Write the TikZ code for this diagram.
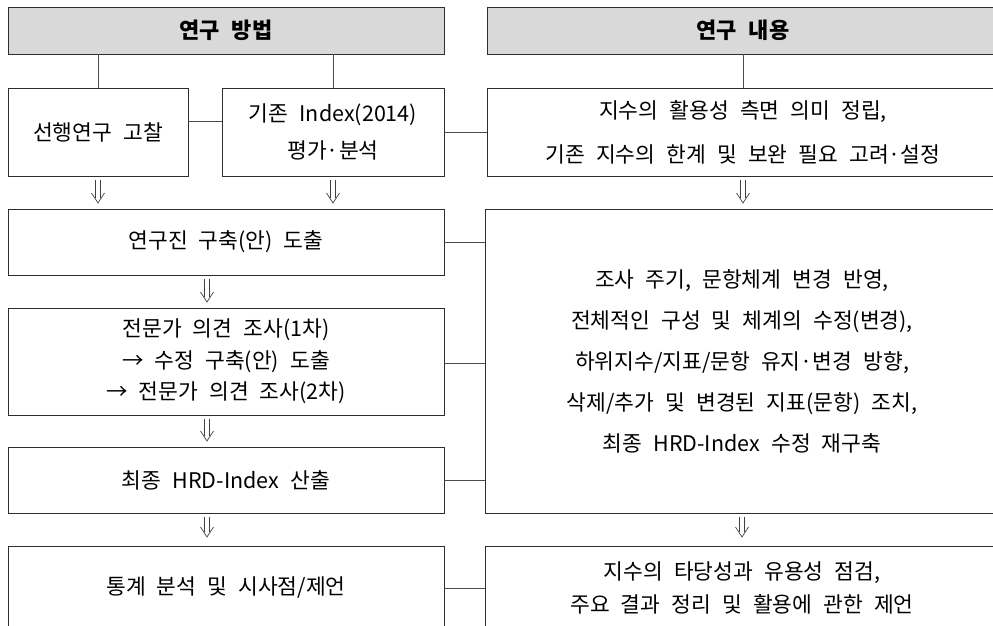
\documentclass[tikz,border=0pt]{standalone}
\usepackage{fontspec}
\setmainfont{Noto Sans CJK KR}[WordSpace=2.3]
\definecolor{hdrfill}{RGB}{217,217,217}
\definecolor{edgecol}{RGB}{45,45,45}
\definecolor{conncol}{RGB}{75,75,75}
\tikzset{
  box/.style={draw=edgecol, line width=0.9pt, rectangle, anchor=north west,
    inner sep=0pt, outer sep=0pt, align=center, font=\fontsize{21.5}{34}\selectfont},
  hdr/.style={box, fill=hdrfill, font=\fontsize{22}{24}\selectfont\bfseries},
  conn/.style={draw=conncol, line width=0.8pt},
  dbl/.style={draw=black!75, line width=0.7pt}
}
% double arrow (like the glyph ⇓) from coordinate #1 down to coordinate #2
\newcommand\dblarrowdraw[2]{%
  \draw[dbl] ([xshift=-2.3pt,yshift=-3.5pt]#1) -- ([xshift=-2.3pt,yshift=5pt]#2);
  \draw[dbl] ([xshift=2.3pt,yshift=-3.5pt]#1) -- ([xshift=2.3pt,yshift=5pt]#2);
  \draw[dbl] ([xshift=-6.5pt,yshift=10pt]#2) -- (#2) -- ([xshift=6.5pt,yshift=10pt]#2);
}
\begin{document}
\begin{tikzpicture}[x=1pt,y=-1pt]
\useasboundingbox (0,0) rectangle (993,626);
\clip (0,0) rectangle (993,626);
% headers
\node[hdr, minimum width=436pt, minimum height=47pt] (hl) at (8,7) {연구\hspace{12pt}방법};
\node[hdr, minimum width=512pt, minimum height=47pt] (hr) at (487,7) {연구\hspace{12pt}내용};
% top row
\node[box, minimum width=180pt, minimum height=88pt] (b1) at (8,88) {선행연구 고찰};
\node[box, minimum width=222pt, minimum height=88pt, font=\fontsize{21.5}{37}\selectfont] (b2) at (222,88) {기존 Index(2014)\\평가·분석};
\node[box, minimum width=512pt, minimum height=88pt, font=\fontsize{21.5}{44}\selectfont] (r1) at (487,88) {지수의 활용성 측면 의미 정립,\\기존 지수의 한계 및 보완 필요 고려·설정};
% left column
\node[box, minimum width=436pt, minimum height=66pt] (c1) at (8,209) {연구진 구축(안) 도출};
\node[box, minimum width=436pt, minimum height=107pt, font=\fontsize{21.5}{31.5}\selectfont] (c2) at (8,308) {전문가 의견 조사(1차)\\→ 수정 구축(안) 도출\\→ 전문가 의견 조사(2차)};
\node[box, minimum width=436pt, minimum height=66pt] (c3) at (8,447) {최종 HRD-Index 산출};
\node[box, minimum width=436pt, minimum height=84pt] (c4) at (8,546) {통계 분석 및 시사점/제언};
% right column
\node[box, minimum width=514pt, minimum height=304pt, font=\fontsize{21.5}{41}\selectfont] (r2) at (485,209) {조사 주기, 문항체계 변경 반영,\\전체적인 구성 및 체계의 수정(변경),\\하위지수/지표/문항 유지·변경 방향,\\삭제/추가 및 변경된 지표(문항) 조치,\\최종 HRD-Index 수정 재구축};
\node[box, minimum width=514pt, minimum height=84pt, font=\fontsize{21.5}{33}\selectfont] (r3) at (485,546) {지수의 타당성과 유용성 점검,\\주요 결과 정리 및 활용에 관한 제언};
% connectors
\draw[conn] (hl.south -| b1.north) -- (b1.north);
\draw[conn] (hl.south -| b2.north) -- (b2.north);
\draw[conn] (hr.south -| r1.north) -- (r1.north);
\coordinate (j1) at ([yshift=11pt]b1.east);
\draw[conn] (j1) -- (j1 -| b2.west);
\draw[conn] (b2.east) -- (b2.east -| r1.west);
\draw[conn] (c1.east) -- (c1.east -| r2.west);
\coordinate (j2) at ([yshift=-2pt]c2.east);
\draw[conn] (j2) -- (j2 -| r2.west);
\draw[conn] (c3.east) -- (c3.east -| r2.west);
\draw[conn] (c4.east) -- (c4.east -| r3.west);
% arrows
\coordinate (t1) at ([yshift=6pt]b1.south |- c1.north);
\dblarrowdraw{b1.south}{t1}
\coordinate (t2) at ([yshift=6pt]b2.south |- c1.north);
\dblarrowdraw{b2.south}{t2}
\coordinate (t3) at ([yshift=6pt]r1.south |- r2.north);
\dblarrowdraw{r1.south}{t3}
\coordinate (a1) at ([xshift=-19pt]c1.south);
\coordinate (t4) at ([yshift=6pt]a1 |- c2.north);
\dblarrowdraw{a1}{t4}
\coordinate (a2) at ([xshift=-19pt]c2.south);
\coordinate (t5) at ([yshift=6pt]a2 |- c3.north);
\dblarrowdraw{a2}{t5}
\coordinate (a3) at ([xshift=-19pt]c3.south);
\coordinate (t6) at ([yshift=9pt]a3 |- c4.north);
\dblarrowdraw{a3}{t6}
\coordinate (t7) at ([yshift=9pt]r2.south |- r3.north);
\dblarrowdraw{r2.south}{t7}
\end{tikzpicture}
\end{document}
